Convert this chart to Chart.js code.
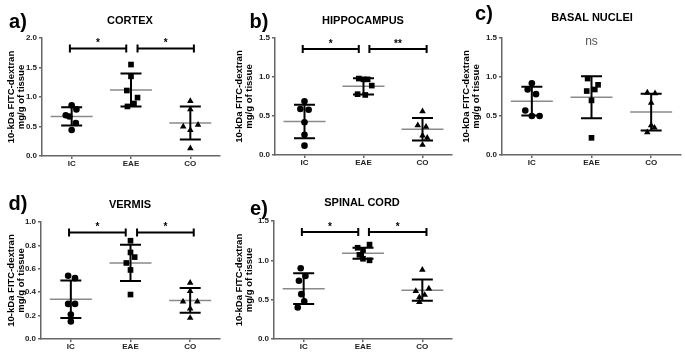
<!DOCTYPE html>
<html><head><meta charset="utf-8">
<script src="https://cdn.jsdelivr.net/npm/chart.js@4.4.0/dist/chart.umd.min.js"></script>
<style>
html,body{margin:0;padding:0;background:#fff;}
body{width:685px;height:353px;position:relative;overflow:hidden;font-family:"Liberation Sans",Arial,sans-serif;}
canvas{position:absolute;}
.lbl{position:absolute;font-weight:bold;color:#000;white-space:nowrap;transform:translate(-50%,-50%);line-height:1;}
.letter{font-size:20px;}
.ttl{font-size:11px;}
</style></head><body>
<canvas id="cA" width="230" height="175" style="left:0;top:0"></canvas>
<canvas id="cB" width="230" height="175" style="left:230px;top:0"></canvas>
<canvas id="cC" width="225" height="175" style="left:460px;top:0"></canvas>
<canvas id="cD" width="230" height="175" style="left:0;top:178px"></canvas>
<canvas id="cE" width="230" height="175" style="left:230px;top:178px"></canvas>
<script>
// ---------- data ----------
const categories = ['IC', 'EAE', 'CO'];
const panelLetters = ['a)', 'b)', 'c)', 'd)', 'e)'];
const panelTitles = ['CORTEX', 'HIPPOCAMPUS', 'BASAL NUCLEI', 'VERMIS', 'SPINAL CORD'];
const yAxisTitle = ['10-kDa FITC-dextran', 'mg/g of tissue'];

// a) CORTEX
const cortexIC  = [0.86, 0.79, 0.69, 0.67, 0.56, 0.44];
const cortexEAE = [1.55, 1.35, 1.11, 0.99, 0.89, 0.84];
const cortexCO  = [0.93, 0.79, 0.50, 0.53, 0.44, 0.13];
const cortexMean = [0.67, 1.12, 0.56];
const cortexSD   = [0.155, 0.28, 0.28];
const cortexJitter = [[0, 0.08, -0.10, -0.04, 0.07, 0], [0, 0, -0.07, 0.11, 0.05, -0.06], [0, 0, -0.12, 0.13, 0, 0]];
const cortexSig = [[-0.03, 0.92, 1.82, '*'], [1.11, 2.06, 1.82, '*']];

// b) HIPPOCAMPUS
const hippoIC  = [0.69, 0.59, 0.58, 0.42, 0.26, 0.12];
const hippoEAE = [0.98, 0.97, 0.97, 0.89, 0.78, 0.77];
const hippoCO  = [0.56, 0.38, 0.36, 0.25, 0.22, 0.13];
const hippoMean = [0.43, 0.88, 0.33];
const hippoSD   = [0.215, 0.105, 0.145];
const hippoJitter = [[0, -0.07, 0.07, 0, 0, 0], [-0.08, 0.07, 0, 0.14, -0.10, 0.03], [0, -0.08, 0.06, 0, 0.08, 0]];
const hippoSig = [[-0.03, 0.92, 1.36, '*'], [1.10, 2.07, 1.36, '**']];

// c) BASAL NUCLEI
const basalIC  = [0.92, 0.84, 0.78, 0.57, 0.50, 0.50];
const basalEAE = [0.98, 0.90, 0.84, 0.82, 0.70, 0.22];
const basalCO  = [0.80, 0.79, 0.67, 0.38, 0.35, 0.29];
const basalMean = [0.69, 0.74, 0.55];
const basalSD   = [0.185, 0.27, 0.235];
const basalJitter = [[0, -0.07, 0.07, -0.11, 0, 0.13], [-0.065, 0.11, 0.055, -0.08, 0, 0], [-0.065, 0.065, 0, 0, 0.055, -0.065]];
const basalNote = [1, 1.45, 'ns'];

// d) VERMIS
const vermisIC  = [0.54, 0.52, 0.30, 0.30, 0.21, 0.15];
const vermisEAE = [0.84, 0.74, 0.70, 0.65, 0.59, 0.38];
const vermisCO  = [0.48, 0.41, 0.32, 0.32, 0.26, 0.18];
const vermisMean = [0.34, 0.65, 0.33];
const vermisSD   = [0.16, 0.155, 0.105];
const vermisJitter = [[-0.045, 0.07, -0.045, 0.07, 0, 0], [0, 0, 0.07, -0.07, 0, 0], [0, 0, -0.12, 0.12, 0, 0]];
const vermisSig = [[-0.03, 0.92, 0.91, '*'], [1.11, 2.06, 0.91, '*']];

// e) SPINAL CORD
const spinalIC  = [0.90, 0.80, 0.74, 0.57, 0.48, 0.40];
const spinalEAE = [1.20, 1.16, 1.13, 1.07, 1.02, 1.00];
const spinalCO  = [0.88, 0.64, 0.61, 0.56, 0.53, 0.47];
const spinalMean = [0.64, 1.09, 0.62];
const spinalSD   = [0.195, 0.07, 0.135];
const spinalJitter = [[-0.05, 0.03, -0.08, -0.04, 0.01, -0.10], [0.11, -0.09, 0, -0.06, 0, 0.11], [0, 0.11, -0.11, 0.04, -0.05, -0.05]];
const spinalSig = [[-0.03, 0.92, 1.36, '*'], [1.10, 2.07, 1.36, '*']];

// ---------- rendering ----------
const FONT = '"Liberation Sans", Arial, sans-serif';
Chart.defaults.font.family = FONT;

const overlay = {
  id: 'overlay',
  beforeDatasetsDraw(chart, args, o) {
    const {ctx, scales: {x, y}} = chart;
    ctx.save();
    o.mean.forEach((m, i) => {
      const cx = x.getPixelForValue(i);
      const ym = y.getPixelForValue(m);
      ctx.strokeStyle = '#8a8a8a'; ctx.lineWidth = 1.5;
      ctx.beginPath(); ctx.moveTo(cx - 21, ym); ctx.lineTo(cx + 21, ym); ctx.stroke();
      const yt = y.getPixelForValue(m + o.sd[i]), yb = y.getPixelForValue(m - o.sd[i]);
      ctx.strokeStyle = '#000'; ctx.lineWidth = 2;
      ctx.beginPath();
      ctx.moveTo(cx, yt); ctx.lineTo(cx, yb);
      ctx.moveTo(cx - 10.5, yt); ctx.lineTo(cx + 10.5, yt);
      ctx.moveTo(cx - 10.5, yb); ctx.lineTo(cx + 10.5, yb);
      ctx.stroke();
    });
    ctx.restore();
  },
  afterDatasetsDraw(chart, args, o) {
    const {ctx, scales: {x, y}} = chart;
    ctx.save();
    (o.sig || []).forEach(([a, b, v, t]) => {
      const x1 = x.getPixelForValue(a), x2 = x.getPixelForValue(b), yy = y.getPixelForValue(v);
      ctx.strokeStyle = '#000'; ctx.lineWidth = 2;
      ctx.beginPath();
      ctx.moveTo(x1, yy); ctx.lineTo(x2, yy);
      ctx.moveTo(x1, yy - 4); ctx.lineTo(x1, yy + 4);
      ctx.moveTo(x2, yy - 4); ctx.lineTo(x2, yy + 4);
      ctx.stroke();
      ctx.fillStyle = '#000'; ctx.font = 'bold 10px ' + FONT;
      ctx.textAlign = 'center'; ctx.textBaseline = 'middle';
      ctx.fillText(t, (x1 + x2) / 2, yy - 5);
    });
    if (o.note) {
      const [a, v, t] = o.note;
      ctx.fillStyle = '#555'; ctx.font = '12px ' + FONT;
      ctx.textAlign = 'center'; ctx.textBaseline = 'middle';
      ctx.fillText(t, x.getPixelForValue(a), y.getPixelForValue(v));
    }
    ctx.restore();
  }
};

const shapes = ['circle', 'rect', 'triangle'];
const radii = [3.3, 4, 3.8];

function makePanel(id, groups, jitter, mean, sd, sig, note, yMax, yStep, lay) {
  new Chart(document.getElementById(id), {
    type: 'scatter',
    data: {
      datasets: groups.map((vals, gi) => ({
        data: vals.map((v, k) => ({x: gi + jitter[gi][k], y: v})),
        pointStyle: shapes[gi], pointRadius: radii[gi],
        backgroundColor: '#000', borderColor: '#000', borderWidth: 0
      }))
    },
    options: {
      animation: false, responsive: false, devicePixelRatio: 1,
      layout: {padding: {top: lay.T, right: lay.R, left: 0, bottom: 0}},
      plugins: {legend: {display: false}, tooltip: {enabled: false},
        overlay: {mean, sd, sig, note}},
      scales: {
        x: {
          type: 'linear', min: -0.5, max: 2.5,
          afterBuildTicks: s => { s.ticks = categories.map((c, i) => ({value: i})); },
          afterFit: s => { s.height = lay.H; },
          ticks: {callback: v => categories[v], font: {size: 8, weight: 'bold'}, color: '#222', padding: 0, autoSkip: false, maxRotation: 0},
          grid: {display: true, drawOnChartArea: false, drawTicks: true, tickLength: 3, color: '#666', lineWidth: 1.5},
          border: {display: true, color: '#666', width: 1.5}
        },
        y: {
          min: 0, max: yMax,
          afterFit: s => { s.width = lay.W; },
          ticks: {stepSize: yStep, callback: v => Number(v).toFixed(1), font: {size: 8, weight: 'bold'}, color: '#222', padding: 2},
          grid: {display: true, drawOnChartArea: false, drawTicks: true, tickLength: 3, color: '#666', lineWidth: 1.5},
          border: {display: true, color: '#666', width: 1.5},
          title: {display: true, text: yAxisTitle, color: '#000', font: {size: 9.5, weight: 'bold', lineHeight: 1.05}, padding: {top: lay.P, bottom: 0}}
        }
      }
    },
    plugins: [overlay]
  });
}

makePanel('cA', [cortexIC, cortexEAE, cortexCO], cortexJitter, cortexMean, cortexSD, cortexSig, null, 2.0, 0.5, {W: 42, T: 38, R: 10, H: 19, P: 6});
makePanel('cB', [hippoIC, hippoEAE, hippoCO], hippoJitter, hippoMean, hippoSD, hippoSig, null, 1.5, 0.5, {W: 45, T: 38, R: 8, H: 20, P: 4});
makePanel('cC', [basalIC, basalEAE, basalCO], basalJitter, basalMean, basalSD, [], basalNote, 1.5, 0.5, {W: 42, T: 38, R: 0, H: 20, P: 1});
makePanel('cD', [vermisIC, vermisEAE, vermisCO], vermisJitter, vermisMean, vermisSD, vermisSig, null, 1.0, 0.2, {W: 41, T: 44, R: 10, H: 14, P: 6});
makePanel('cE', [spinalIC, spinalEAE, spinalCO], spinalJitter, spinalMean, spinalSD, spinalSig, null, 1.5, 0.5, {W: 44, T: 43, R: 8, H: 14, P: 4});

// panel letters and titles (HTML text)
const letterPos = [[18, 21], [259, 21], [484, 13], [18, 203], [259, 208]];
const titlePos = [[130, 19.5], [363, 19.5], [592, 17], [130, 203.5], [362, 202]];
panelLetters.forEach((t, i) => {
  const d = document.createElement('div'); d.className = 'lbl letter'; d.textContent = t;
  d.style.left = letterPos[i][0] + 'px'; d.style.top = letterPos[i][1] + 'px'; document.body.appendChild(d);
});
panelTitles.forEach((t, i) => {
  const d = document.createElement('div'); d.className = 'lbl ttl'; d.textContent = t;
  d.style.left = titlePos[i][0] + 'px'; d.style.top = titlePos[i][1] + 'px'; document.body.appendChild(d);
});
</script>
</body></html>
